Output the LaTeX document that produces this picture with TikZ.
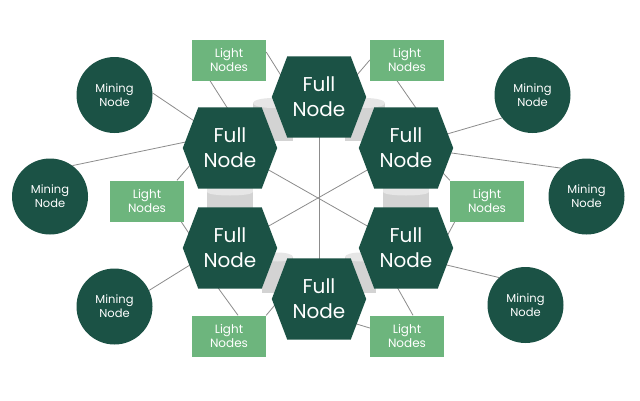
\documentclass[tikz,border=0pt]{standalone}
\usepackage{fontspec}
\setmainfont{Poppins}
\usetikzlibrary{calc,backgrounds}
\pgfdeclarelayer{base}
\pgfsetlayers{base,background,main}
\definecolor{hexgreen}{HTML}{1B5245}
\definecolor{boxgreen}{HTML}{6DB57D}
\definecolor{linegray}{HTML}{8C8C8C}
\definecolor{pipegray}{HTML}{D3D3D3}
\definecolor{pipecap}{HTML}{E6E6E6}
\begin{document}
\begin{tikzpicture}[x=1pt,y=-1pt,
  hexnode/.style={minimum width=94pt,minimum height=81pt,inner sep=0pt,text=white,
    font=\fontsize{20}{25}\selectfont,align=center},
  minenode/.style={circle,minimum size=76pt,inner sep=0pt,fill=hexgreen,text=white,
    font=\fontsize{11.5}{14}\selectfont,align=center},
  lightnode/.style={rectangle,minimum width=74pt,minimum height=41pt,inner sep=0pt,fill=boxgreen,
    text=white,font=\fontsize{12}{13.5}\selectfont,align=center},
  conn/.style={draw=linegray,line width=0.8pt},
  pipebody/.style={fill=pipegray},
  pipetop/.style={fill=pipecap}]
\begin{pgfonlayer}{base}
\fill[white] (0,0) rectangle (640,400);
\end{pgfonlayer}
\useasboundingbox (0,0) rectangle (640,400);
% full nodes
\node[hexnode] (h1) at (319,97) {Full\\Node};
\node[hexnode] (h2) at (230,148) {Full\\Node};
\node[hexnode] (h3) at (406,148) {Full\\Node};
\node[hexnode] (h4) at (230,248) {Full\\Node};
\node[hexnode] (h5) at (406,248) {Full\\Node};
\node[hexnode] (h6) at (319,299) {Full\\Node};
% mining nodes
\node[minenode] (m1) at (114.5,95) {Mining\\Node};
\node[minenode] (m2) at (50,196.5) {Mining\\Node};
\node[minenode] (m3) at (114.5,306.5) {Mining\\Node};
\node[minenode] (m4) at (532.5,95) {Mining\\Node};
\node[minenode] (m5) at (586.5,196.5) {Mining\\Node};
\node[minenode] (m6) at (525.5,305) {Mining\\Node};
% light nodes
\node[lightnode] (l1) at (229,60) {Light\\Nodes};
\node[lightnode] (l2) at (407,60) {Light\\Nodes};
\node[lightnode] (l3) at (147,201) {Light\\Nodes};
\node[lightnode] (l4) at (487,201) {Light\\Nodes};
\node[lightnode] (l5) at (229,336) {Light\\Nodes};
\node[lightnode] (l6) at (407,336) {Light\\Nodes};
\begin{pgfonlayer}{background}
  % spokes
  \draw[conn] (h2.center) -- (h5.center);
  \draw[conn] (h3.center) -- (h4.center);
  \draw[conn] (h1.center) -- (h6.center);
  % mining connectors
  \draw[conn] (m1.3) -- ($(h2.center)+(-15,-13)$);
  \draw[conn] (m2.54) -- ($(h2.center)+(-30,-9)$);
  \draw[conn] (m3.25) -- ($(h4.center)+(-24,7)$);
  \draw[conn] (m4.217) -- ($(h3.center)+(24,-9)$);
  \draw[conn] (m5.132) -- ($(h3.center)+(24,2)$);
  \draw[conn] (m6.134) -- ($(h5.center)+(24,13)$);
  % light connectors
  \draw[conn] ($(l1.east)+(0,-8)$) -- ($(h1.center)+(-27,-4)$);
  \draw[conn] ($(l1.south)+(-19,0)$) -- ($(h2.center)+(5,-28)$);
  \draw[conn] (l2.west) -- ($(h1.center)+(26,-8)$);
  \draw[conn] ($(l2.south)+(-10,0)$) -- ($(h3.center)+(19,-27)$);
  \draw[conn] ($(l3.north)+(30,0)$) -- ($(h2.center)+(-25,0)$);
  \draw[conn] ($(l3.south east)+(-3,0)$) -- ($(h4.center)+(-30,2)$);
  \draw[conn] (l4.north west) -- ($(h3.center)+(24,11)$);
  \draw[conn] ($(l4.south west)+(5,0)$) -- ($(h5.center)+(32,5)$);
  \draw[conn] ($(l5.north)+(9,0)$) -- ($(h4.center)+(-22,26)$);
  \draw[conn] (l5.north east) -- ($(h6.center)+(-34,-6)$);
  \draw[conn] ($(l6.west)+(0,-8)$) -- ($(h6.center)+(21,20)$);
  \draw[conn] ($(l6.north)+(6,0)$) -- ($(h5.center)+(-14,30)$);
  % pipes between neighbouring full nodes
  % top pair
  \fill[pipebody] ($(h1.center)+(-66,6)$) rectangle ($(h1.center)+(-26,44)$);
  \fill[pipetop] ($(h1.center)+(-46,6)$) ellipse [x radius=20pt,y radius=5pt];
  \fill[pipebody] ($(h1.center)+(26,6)$) rectangle ($(h1.center)+(66,44)$);
  \fill[pipetop] ($(h1.center)+(46,6)$) ellipse [x radius=20pt,y radius=5pt];
  % vertical pair
  \fill[pipebody] ($(h2.center)+(-23,43)$) rectangle ($(h2.center)+(23,60)$);
  \fill[pipetop] ($(h2.center)+(-23,40)$) rectangle ($(h2.center)+(23,44)$);
  \fill[pipetop] ($(h2.center)+(0,44)$) ellipse [x radius=23pt,y radius=3.5pt];
  \fill[pipebody] ($(h3.center)+(-23,43)$) rectangle ($(h3.center)+(23,60)$);
  \fill[pipetop] ($(h3.center)+(-23,40)$) rectangle ($(h3.center)+(23,44)$);
  \fill[pipetop] ($(h3.center)+(0,44)$) ellipse [x radius=23pt,y radius=3.5pt];
  % bottom pair
  \fill[pipebody] ($(h6.center)+(-57,-42)$) rectangle ($(h6.center)+(-26,-6)$);
  \fill[pipetop] ($(h6.center)+(-41.5,-42)$) ellipse [x radius=15.5pt,y radius=4.5pt];
  \fill[pipebody] ($(h6.center)+(26,-42)$) rectangle ($(h6.center)+(57,-6)$);
  \fill[pipetop] ($(h6.center)+(41.5,-42)$) ellipse [x radius=15.5pt,y radius=4.5pt];
  % hexagon bodies
  \foreach \h in {h1,h2,h3,h4,h5,h6}
    \fill[hexgreen] (\h.west) -- ([xshift=15.5pt]\h.north west) -- ([xshift=-15.5pt]\h.north east)
      -- (\h.east) -- ([xshift=-15.5pt]\h.south east) -- ([xshift=15.5pt]\h.south west) -- cycle;
\end{pgfonlayer}
\end{tikzpicture}
\end{document}
